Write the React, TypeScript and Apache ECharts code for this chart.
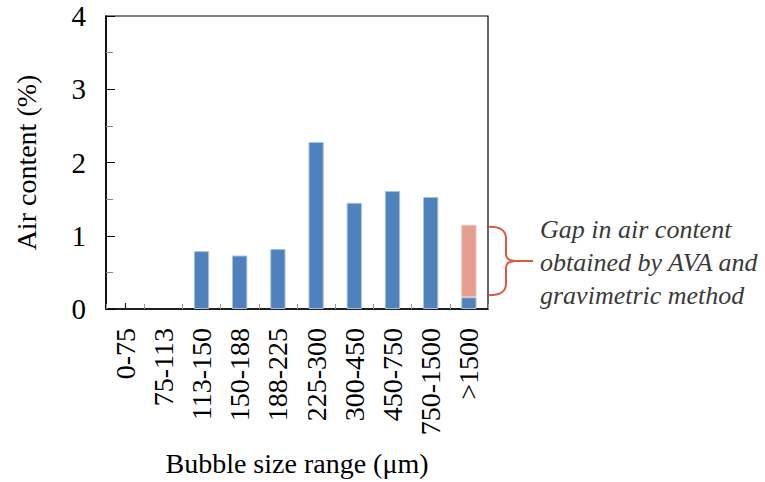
import React, { useEffect, useRef } from "react";
import * as echarts from "echarts";

const categories = ["0-75", "75-113", "113-150", "150-188", "188-225", "225-300", "300-450", "450-750", "750-1500", ">1500"];
const airContent = [0, 0, 0.79, 0.73, 0.82, 2.28, 1.45, 1.61, 1.53, 0.16];
const gapContent = [null, null, null, null, null, null, null, null, null, 0.99];
const yTicks = [0, 1, 2, 3, 4];
const annotationLines = ["Gap in air content", "obtained by AVA and", "gravimetric method"];

const SERIF = "Liberation Serif";

export default function App() {
  const ref = useRef<HTMLDivElement>(null);
  useEffect(() => {
    if (!ref.current) return;
    const chart = echarts.init(ref.current, undefined, { renderer: "svg" });
    const blueStyle = { color: "#4F81BD", borderColor: "#A9C1E0", borderWidth: 1 };
    const option: any = {
      animation: false,
      textStyle: { fontFamily: SERIF },
      grid: {
        left: 106,
        right: 277,
        top: 16,
        bottom: 173,
        show: true,
        borderColor: "#000",
        borderWidth: 1.2,
        backgroundColor: "transparent",
      },
      xAxis: [
        {
          type: "category",
          data: categories,
          position: "bottom",
          axisLine: { lineStyle: { color: "#000", width: 1.6 } },
          axisTick: { show: true, inside: true, length: 5, lineStyle: { color: "#999", width: 1 } },
          axisLabel: {
            rotate: 90,
            fontFamily: SERIF,
            fontSize: 28,
            color: "#000",
            margin: 19,
            interval: 0,
          },
          name: "Bubble size range (\u03bcm)",
          nameLocation: "middle",
          nameGap: 140,
          nameTextStyle: { fontFamily: SERIF, fontSize: 28, color: "#000" },
        },
        {
          type: "category",
          data: categories,
          position: "bottom",
          axisLine: { show: false },
          axisTick: { show: true, inside: true, alignWithLabel: true, length: 6, lineStyle: { color: "#222", width: 1.2 } },
          axisLabel: { show: false },
        },
      ],
      yAxis: {
        type: "value",
        min: yTicks[0],
        max: yTicks[yTicks.length - 1],
        interval: 1,
        splitLine: { show: false },
        axisLine: { show: true, lineStyle: { color: "#000", width: 1.6 } },
        axisTick: { show: true, inside: true, length: 9, lineStyle: { color: "#000" } },
        minorTick: { show: true, splitNumber: 2, length: 7, lineStyle: { color: "#888" } },
        axisLabel: { fontFamily: SERIF, fontSize: 29, color: "#000", margin: 20 },
        name: "Air content (%)",
        nameLocation: "middle",
        nameGap: 66,
        nameTextStyle: { fontFamily: SERIF, fontSize: 28, color: "#000" },
      },
      series: [
        {
          type: "bar",
          stack: "total",
          data: airContent.map((v) => ({ value: v, itemStyle: v === 0 ? { borderWidth: 0 } : {} })),
          barWidth: "40%",
          itemStyle: blueStyle,
        },
        {
          type: "bar",
          stack: "total",
          data: gapContent,
          barWidth: "40%",
          itemStyle: { color: "#E59E8E", borderColor: "#F3C7BC", borderWidth: 1 },
        },
      ],
    };
    chart.setOption(option);

    const lastIdx = categories.length - 1;
    const bottomVal = airContent[lastIdx];
    const topVal = bottomVal + (gapContent[lastIdx] as number);
    const pTop = chart.convertToPixel({ gridIndex: 0 }, [lastIdx, topVal]) as number[];
    const pBot = chart.convertToPixel({ gridIndex: 0 }, [lastIdx, bottomVal]) as number[];
    const y0 = pTop[1] + 2;
    const y1 = pBot[1] - 2;
    const h = y1 - y0;
    const m = h / 2;
    const xStart = 765 - 277 + 1;
    const d =
      `M0,0 C11,0 17,3 17,12 L17,${m - 7} C17,${m - 2} 20,${m} 27,${m} L44,${m} ` +
      `M27,${m} C20,${m} 17,${m + 2} 17,${m + 7} L17,${h - 12} C17,${h - 3} 11,${h} 0,${h}`;
    echarts.graphic.registerShape("brace", (echarts.graphic as any).extendPath(d, {}));
    chart.setOption({
      graphic: [
        {
          type: "brace",
          x: xStart,
          y: y0,
          style: { stroke: "#E0583A", fill: "none", lineWidth: 2 },
        },
        {
          type: "text",
          x: 540,
          y: y0 + m + 1,
          style: {
            text: annotationLines.join("\n"),
            fontFamily: SERIF,
            fontStyle: "italic",
            fontSize: 26,
            lineHeight: 33,
            fill: "#3a3a3a",
            verticalAlign: "middle",
            align: "left",
          },
        },
      ],
    });
    return () => chart.dispose();
  }, []);
  return <div ref={ref} style={{ position: "absolute", left: 0, top: 0, width: 765, height: 482 }} />;
}
